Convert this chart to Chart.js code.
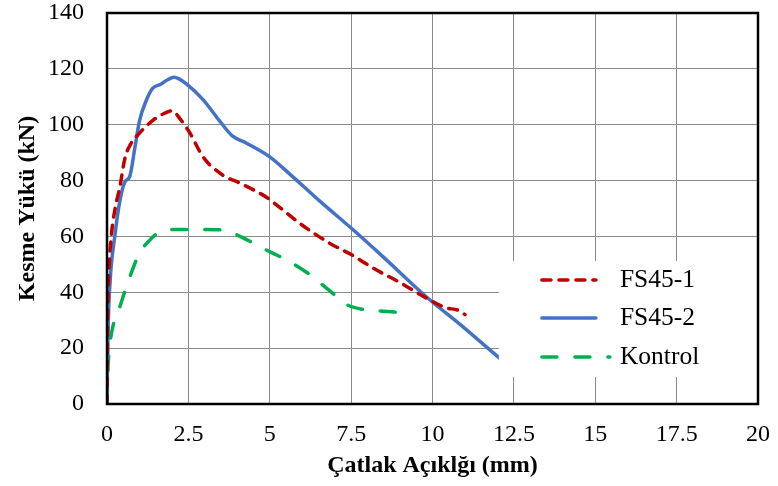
<!DOCTYPE html>
<html>
<head>
  <title>Kesme Yükü - Çatlak Açıklığı</title>
  <script src="https://cdn.jsdelivr.net/npm/chart.js"></script>
  <style>
    body { margin: 0; background: white; }
    #wrap { width: 778px; height: 486px; }
  </style>
</head>
<body>
  <div id="wrap"><canvas id="crackChart" width="778" height="486"></canvas></div>

  <script>
    // values
    const xTicks = [0, 2.5, 5, 7.5, 10, 12.5, 15, 17.5, 20];
    const yTicks = [0, 20, 40, 60, 80, 100, 120, 140];

    const fs1X = [0, 0.02, 0.05, 0.14, 0.25, 0.4, 0.55, 0.7, 1.0, 1.4, 1.75, 2.0, 2.25, 2.55, 2.95, 3.55, 4.1, 4.9, 5.4, 6.0, 6.85, 7.5, 8.2, 9.0, 9.8, 10.4, 10.8, 11.0];
    const fs1Y = [0, 30, 45, 61, 70, 78, 88, 92.5, 97, 101.5, 104, 105, 102, 97, 88.5, 82, 79, 74, 69.5, 64, 57.5, 53.5, 48.5, 43.5, 38, 34.5, 33.5, 32];

    const fs2X = [0, 0.03, 0.09, 0.25, 0.4, 0.55, 0.7, 0.86, 1.0, 1.2, 1.4, 1.65, 1.85, 2.05, 2.2, 2.45, 2.95, 3.45, 3.85, 4.3, 5.0, 5.6, 6.6, 7.5, 8.5, 9.8, 11.0, 12.05];
    const fs2Y = [0, 25, 43, 61, 73, 79.5, 81.5, 92, 101.5, 108.5, 113, 114.5, 116, 117, 116.5, 114.5, 109, 101.5, 96, 93.3, 88.5, 82.5, 72, 63, 52.5, 38.5, 27, 16.5];

    const konX = [0, 0.02, 0.05, 0.14, 0.4, 0.7, 1.0, 1.3, 1.6, 1.95, 2.5, 3.0, 3.55, 4.0, 4.8, 5.6, 6.15, 6.55, 6.95, 7.3, 7.8, 8.3, 8.85, 9.3];
    const konY = [0, 10, 17, 25.5, 35, 45.5, 54, 58.5, 61.5, 62.5, 62.5, 62.5, 62.3, 60.5, 55.7, 51, 47, 43.3, 39.5, 36, 34, 33.4, 32.9, 32.4];

    const seriesNames = ['FS45-1', 'FS45-2', 'Kontrol'];

    const serif = "'Liberation Serif', 'Times New Roman', serif";

    function pts(xs, ys) {
      return xs.map((x, i) => ({ x: x, y: ys[i] }));
    }

    // white legend box inside the plot + black frame round the plot
    const boxLegend = {
      id: 'boxLegend',
      afterDatasetsDraw(chart) {
        const ctx = chart.ctx;
        const a = chart.chartArea;
        const bx = a.left + a.width * 0.602;
        const by = a.top + a.height * 0.634;
        const bb = a.top + a.height * 0.931;
        ctx.save();
        ctx.fillStyle = 'white';
        ctx.fillRect(bx, by, a.right - bx, bb - by);
        const rows = [19, 57, 96];
        chart.data.datasets.forEach((ds, i) => {
          const y = by + rows[i];
          ctx.beginPath();
          ctx.strokeStyle = ds.borderColor;
          ctx.lineWidth = ds.borderWidth;
          ctx.lineCap = 'round';
          ctx.setLineDash(ds.borderDash || []);
          ctx.moveTo(bx + 43, y);
          ctx.lineTo(bx + (i === 2 ? 111 : 97), y);
          ctx.stroke();
          ctx.setLineDash([]);
          ctx.fillStyle = 'black';
          ctx.font = '25.5px ' + serif;
          ctx.textBaseline = 'middle';
          ctx.textAlign = 'left';
          ctx.fillText(ds.label, bx + 121, y);
        });
        ctx.restore();
      },
      afterDraw(chart) {
        const ctx = chart.ctx;
        const a = chart.chartArea;
        ctx.save();
        ctx.strokeStyle = 'black';
        ctx.lineWidth = 2.5;
        ctx.strokeRect(a.left, a.top, a.width, a.height);
        ctx.restore();
      }
    };

    const ctx = document.getElementById('crackChart').getContext('2d');
    const crackChart = new Chart(ctx, {
      type: 'line',
      data: {
        datasets: [
          { label: seriesNames[0], data: pts(fs1X, fs1Y), borderColor: '#C00000', borderWidth: 3.5, borderDash: [9, 8], borderCapStyle: 'round' },
          { label: seriesNames[1], data: pts(fs2X, fs2Y), borderColor: '#4472C4', borderWidth: 3.5, borderCapStyle: 'round' },
          { label: seriesNames[2], data: pts(konX, konY), borderColor: '#00B050', borderWidth: 3.5, borderDash: [15, 18], borderCapStyle: 'round' }
        ]
      },
      options: {
        responsive: false,
        animation: false,
        devicePixelRatio: 1,
        layout: { padding: { top: 13, right: 20, left: 0, bottom: 0 } },
        elements: {
          point: { radius: 0 },
          line: { cubicInterpolationMode: 'monotone', fill: false }
        },
        plugins: {
          legend: { display: false },
          tooltip: { enabled: false }
        },
        scales: {
          x: {
            type: 'linear',
            min: 0,
            max: 20,
            afterBuildTicks: s => { s.ticks = xTicks.map(v => ({ value: v })); },
            afterFit: s => { s.height = 82; s.paddingLeft = 0; s.paddingRight = 0; },
            border: { display: false },
            grid: { color: '#8a8a8a', lineWidth: 1, drawTicks: false },
            ticks: { color: 'black', padding: 16, font: { family: serif, size: 24 } },
            title: { display: true, text: 'Çatlak Açıklğı (mm)', color: 'black', padding: { top: 0, bottom: 6 }, font: { family: serif, size: 24, weight: 'bold' } }
          },
          y: {
            min: 0,
            max: 140,
            afterBuildTicks: s => { s.ticks = yTicks.map(v => ({ value: v })); },
            afterFit: s => { s.width = 107; s.paddingTop = 0; s.paddingBottom = 0; },
            border: { display: false },
            grid: { color: '#8a8a8a', lineWidth: 1, drawTicks: false },
            ticks: { color: 'black', padding: 23, font: { family: serif, size: 24 } },
            title: { display: true, text: 'Kesme Yükü (kN)', color: 'black', padding: { top: 13, bottom: 0 }, font: { family: serif, size: 24, weight: 'bold' } }
          }
        }
      },
      plugins: [boxLegend]
    });
  </script>
</body>
</html>
